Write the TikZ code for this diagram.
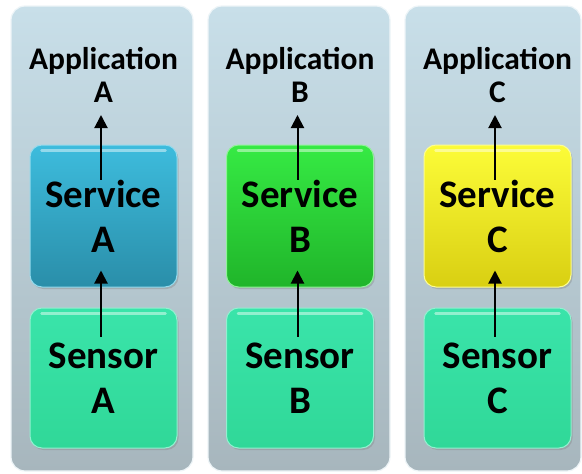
\documentclass[tikz,border=0pt]{standalone}
\usepackage{fontspec}
\setmainfont{Carlito}
\usetikzlibrary{arrows.meta,shadows,calc}
\definecolor{colTop}{HTML}{C8DFE9}
\definecolor{colBot}{HTML}{A7B6BD}
\definecolor{servATop}{HTML}{3DBCDD}
\definecolor{servABot}{HTML}{2A8EA9}
\definecolor{servBTop}{HTML}{36EA44}
\definecolor{servBBot}{HTML}{20B52A}
\definecolor{servCTop}{HTML}{FCFC38}
\definecolor{servCBot}{HTML}{D9CF12}
\definecolor{sensTop}{HTML}{3AE4AA}
\definecolor{sensBot}{HTML}{30D898}
\tikzset{
  colbox/.style={rectangle, rounded corners=14pt, minimum height=465pt,
    top color=colTop, bottom color=colBot, draw=white!70!colTop, line width=1.2pt, inner sep=0pt},
  tile/.style={rectangle, rounded corners=12pt, minimum width=147pt, inner sep=0pt,
    align=center, font=\bfseries\fontsize{39}{45}\selectfont, line width=1pt,
    drop shadow={opacity=0.35, shadow xshift=1.5pt, shadow yshift=-2pt}},
  servbox/.style={tile, minimum height=142pt},
  sensbox/.style={tile, minimum height=140pt, top color=sensTop, bottom color=sensBot,
    draw=white!45!sensTop},
  apptext/.style={align=center, inner sep=0pt, anchor=south,
    font=\bfseries\fontsize{31.5}{33}\selectfont},
  arr/.style={line width=2pt, -{Triangle[width=13pt,length=13pt]}},
  gloss/.style={white, opacity=0.45, line width=2.5pt, line cap=round},
}
\begin{document}
\begin{tikzpicture}[x=1pt,y=-1pt]
\useasboundingbox (0,0) rectangle (582,474);
% columns
\node[colbox, minimum width=182pt] (colA) at (102,238.5) {};
\node[colbox, minimum width=182pt] (colB) at (299,238.5) {};
\node[colbox, minimum width=176pt] (colC) at (493,238.5) {};
% service boxes
\node[servbox, top color=servATop, bottom color=servABot, draw=white!45!servATop] (servA) at (103.5,216) {Service\\A};
\node[servbox, top color=servBTop, bottom color=servBBot, draw=white!45!servBTop] (servB) at (300,216) {Service\\B};
\node[servbox, top color=servCTop, bottom color=servCBot, draw=white!45!servCTop] (servC) at (497.5,216) {Service\\C};
% sensor boxes
\node[sensbox] (sensA) at (103.5,378) {Sensor\\A};
\node[sensbox] (sensB) at (300,378) {Sensor\\B};
\node[sensbox] (sensC) at (497.5,378) {Sensor\\C};
% gloss highlights
\foreach \n in {servA,servB,servC,sensA,sensB,sensC}{
  \draw[gloss] ([xshift=12pt,yshift=-6pt]\n.north west) -- ([xshift=-12pt,yshift=-6pt]\n.north east);
}
% application texts
\node[apptext] (appA) at (103.5,103) {Application\\A};
\node[apptext] (appB) at (300,103) {Application\\B};
\node[apptext] (appC) at (497.5,103) {Application\\C};
% arrows
\foreach \c in {A,B,C}{
  \draw[arr] ([xshift=-2.5pt,yshift=-29pt]sens\c.north) -- ([xshift=-2.5pt,yshift=17pt]serv\c.south);
  \draw[arr] ([xshift=-2.5pt,yshift=-35pt]serv\c.north) -- ([xshift=-2.5pt,yshift=-12pt]app\c.south);
}
\end{tikzpicture}
\end{document}
